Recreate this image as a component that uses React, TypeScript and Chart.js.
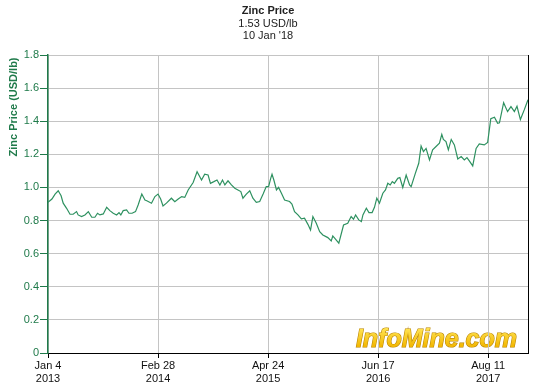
import React, { useEffect, useRef } from 'react';
import { Chart, registerables } from 'chart.js';

Chart.register(...registerables);

// Days since Jan 4 2013
const dayOffsets = [
  0, 15, 27, 39, 50, 58, 71, 84, 96, 109, 115, 128, 141, 154, 167, 179, 189, 198, 211, 224,
  236, 249, 262, 271, 278, 287, 300, 309, 321, 334, 344, 358, 370, 377, 395, 408, 420, 430, 439, 452,
  471, 484, 497, 510, 522, 535, 554, 569, 586, 598, 611, 620, 633, 645, 656, 666, 675, 687, 700, 713,
  725, 736, 744, 757, 770, 782, 795, 808, 821, 833, 842, 850, 855, 862, 872, 880, 891, 903, 922, 931,
  941, 954, 967, 979, 992, 1002, 1011, 1024, 1037, 1049, 1068, 1081, 1087, 1098, 1110, 1128, 1144, 1157, 1166, 1174,
  1186, 1196, 1202, 1215, 1225, 1237, 1246, 1255, 1265, 1278, 1288, 1297, 1306, 1314, 1322, 1335, 1343, 1354, 1367, 1380,
  1386, 1402, 1415, 1424, 1433, 1443, 1456, 1468, 1481, 1494, 1503, 1509, 1519, 1528, 1539, 1551, 1564, 1577, 1589, 1599,
  1608, 1621, 1634, 1646, 1665, 1678, 1690, 1704, 1716, 1723, 1739, 1754, 1767, 1780, 1790, 1803, 1818, 1832,
];

// Zinc price, USD/lb
const zincPrices = [
  0.91, 0.93, 0.96, 0.98, 0.95, 0.905, 0.874, 0.838, 0.838, 0.854, 0.834, 0.824, 0.834, 0.854, 0.82, 0.82, 0.844, 0.834, 0.84, 0.88,
  0.86, 0.844, 0.834, 0.848, 0.834, 0.86, 0.864, 0.844, 0.844, 0.854, 0.894, 0.96, 0.924, 0.92, 0.905, 0.945, 0.96, 0.93, 0.888, 0.905,
  0.935, 0.914, 0.93, 0.945, 0.94, 0.985, 1.03, 1.095, 1.045, 1.08, 1.075, 1.025, 1.035, 1.045, 1.015, 1.045, 1.015, 1.04, 1.015, 0.995,
  0.985, 0.975, 0.935, 0.96, 0.98, 0.935, 0.91, 0.915, 0.96, 1.005, 1.005, 1.055, 1.08, 1.045, 0.985, 1.0, 0.965, 0.924, 0.915, 0.9,
  0.854, 0.834, 0.81, 0.814, 0.777, 0.743, 0.824, 0.784, 0.733, 0.713, 0.697, 0.677, 0.707, 0.687, 0.663, 0.773, 0.784, 0.824, 0.808, 0.834,
  0.804, 0.794, 0.834, 0.874, 0.848, 0.848, 0.88, 0.935, 0.905, 0.965, 0.985, 1.025, 1.015, 1.035, 1.025, 1.055, 1.06, 1.0, 1.075, 1.015,
  1.005, 1.085, 1.146, 1.25, 1.217, 1.236, 1.166, 1.227, 1.247, 1.267, 1.32, 1.29, 1.277, 1.227, 1.29, 1.257, 1.172, 1.187, 1.166, 1.18,
  1.16, 1.13, 1.236, 1.263, 1.257, 1.272, 1.415, 1.424, 1.387, 1.39, 1.512, 1.458, 1.488, 1.458, 1.49, 1.41, 1.47, 1.53,
];

const xTickDays = [0, 420, 840, 1260, 1680];
const xTickLabels = [
  ['Jan 4', '2013'],
  ['Feb 28', '2014'],
  ['Apr 24', '2015'],
  ['Jun 17', '2016'],
  ['Aug 11', '2017'],
];
const xMaxDay = 1832;
const yMin = 0;
const yMax = 1.8;
const yStep = 0.2;

const titleText = 'Zinc Price';
const subtitleLines = ['1.53 USD/lb', "10 Jan '18"];
const yAxisTitle = 'Zinc Price (USD/lb)';
const watermarkText = 'InfoMine.com';

const FONT = '"Liberation Sans", Arial, sans-serif';
const GREEN_AXIS = '#1f7a4a';
const GREEN_LINE = '#2e9160';

const overlayPlugin = {
  id: 'overlay',
  beforeDraw(chart: any) {
    const ctx = chart.ctx;
    const area = chart.chartArea;
    ctx.save();
    ctx.font = `italic bold 25px ${FONT}`;
    ctx.textAlign = 'right';
    ctx.textBaseline = 'alphabetic';
    const xr = area.right - 11;
    const yb = area.bottom - 6;
    const grad = ctx.createLinearGradient(0, yb - 18, 0, yb);
    grad.addColorStop(0, '#ffe24f');
    grad.addColorStop(1, '#f2b600');
    ctx.lineWidth = 1.2;
    ctx.strokeStyle = '#b98400';
    ctx.strokeText(watermarkText, xr, yb);
    ctx.fillStyle = grad;
    ctx.fillText(watermarkText, xr, yb);
    ctx.restore();
  },
  afterDraw(chart: any) {
    const ctx = chart.ctx;
    const area = chart.chartArea;
    ctx.save();
    // Titles
    ctx.textAlign = 'center';
    ctx.textBaseline = 'middle';
    ctx.fillStyle = '#222222';
    ctx.font = `bold 11px ${FONT}`;
    ctx.fillText(titleText, 268, 11);
    ctx.font = `11px ${FONT}`;
    subtitleLines.forEach((l, i) => ctx.fillText(l, 268, 23.5 + i * 12));
    // Y axis title
    ctx.save();
    ctx.translate(14, 107);
    ctx.rotate(-Math.PI / 2);
    ctx.fillStyle = GREEN_AXIS;
    ctx.font = `bold 11px ${FONT}`;
    ctx.fillText(yAxisTitle, 0, 0);
    ctx.restore();
    // Right border
    ctx.strokeStyle = '#000000';
    ctx.lineWidth = 1;
    ctx.beginPath();
    ctx.moveTo(Math.round(area.right) + 0.5, area.top);
    ctx.lineTo(Math.round(area.right) + 0.5, area.bottom);
    ctx.stroke();
    ctx.restore();
  },
};

export default function App() {
  const canvasRef = useRef<HTMLCanvasElement | null>(null);

  useEffect(() => {
    document.body.style.margin = '0';
    const canvas = canvasRef.current;
    if (!canvas) return;
    const points = dayOffsets.map((d, i) => ({ x: d, y: zincPrices[i] }));
    const chart = new Chart(canvas, {
      type: 'line',
      data: {
        datasets: [
          {
            data: points,
            borderColor: GREEN_LINE,
            borderWidth: 1.2,
            pointRadius: 0,
            tension: 0,
            fill: false,
          },
        ],
      },
      options: {
        animation: false,
        responsive: false,
        maintainAspectRatio: false,
        layout: { padding: { top: 55, right: 21, left: 0, bottom: 0 } },
        plugins: {
          legend: { display: false },
          tooltip: { enabled: false },
          title: { display: false },
        },
        scales: {
          x: {
            type: 'linear',
            min: 0,
            max: xMaxDay,
            afterBuildTicks: (scale: any) => {
              scale.ticks = xTickDays.map((v) => ({ value: v }));
            },
            afterFit: (scale: any) => {
              scale.height = 39;
            },
            ticks: {
              autoSkip: false,
              maxRotation: 0,
              padding: 1,
              color: '#111111',
              font: { family: FONT, size: 11 },
              callback: (value: any) => {
                const idx = xTickDays.indexOf(Number(value));
                return idx >= 0 ? xTickLabels[idx] : '';
              },
            },
            grid: {
              color: '#c4c4c4',
              lineWidth: 1,
              tickLength: 5,
              tickColor: '#000000',
            },
            border: { color: '#000000', width: 1 },
          },
          y: {
            min: yMin,
            max: yMax,
            afterFit: (scale: any) => {
              scale.width = 48;
            },
            ticks: {
              stepSize: yStep,
              padding: 1,
              color: GREEN_AXIS,
              font: { family: FONT, size: 11 },
            },
            grid: {
              color: '#c4c4c4',
              lineWidth: 1,
              tickLength: 8,
              tickColor: GREEN_AXIS,
            },
            border: { color: GREEN_AXIS, width: 1.5 },
          },
        },
      },
      plugins: [overlayPlugin],
    } as any);
    return () => chart.destroy();
  }, []);

  return (
    <div style={{ width: 549, height: 392, background: '#ffffff' }}>
      <canvas ref={canvasRef} width={549} height={392} style={{ display: 'block' }} />
    </div>
  );
}
